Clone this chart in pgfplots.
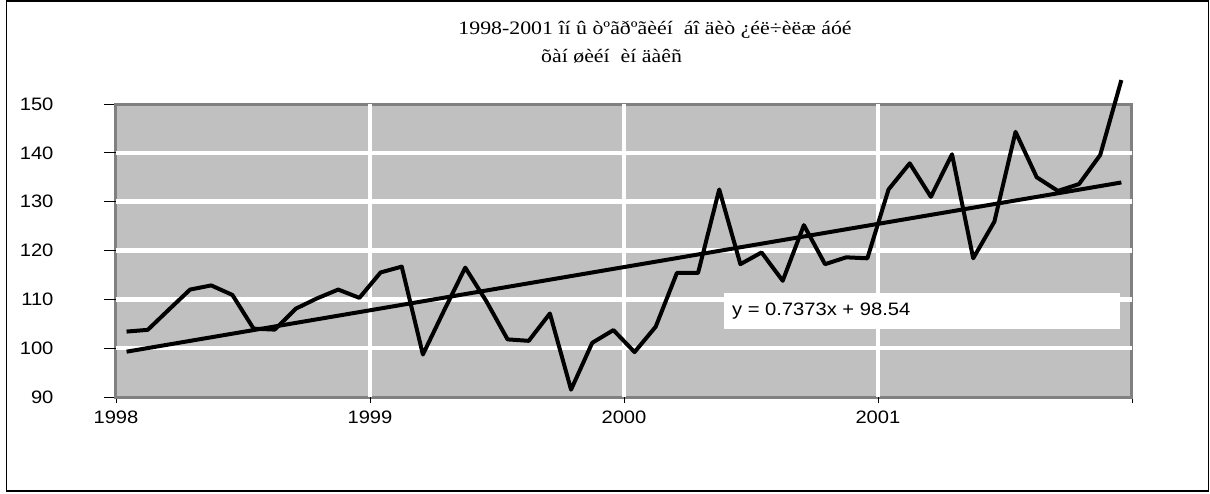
\documentclass[border=0pt]{standalone}
\usepackage{pgfplots}
\pgfplotsset{compat=1.18}
\usepackage{pgfplotstable}
\usepackage{fontspec}
\setmainfont{Liberation Sans}
\newfontfamily\sansf[FakeStretch=1.12]{Liberation Sans}
\newfontfamily\seriff[FakeStretch=1.15]{Liberation Serif}
\definecolor{plotbg}{RGB}{192,192,192}
\definecolor{axgray}{RGB}{128,128,128}
\pgfplotstableread{
x y
0.5 103.4
1.5 103.75
2.5 107.9
3.5 112.0
4.5 112.85
5.5 110.9
6.5 104.0
7.5 103.8
8.5 108.1
9.5 110.2
10.5 112.0
11.5 110.3
12.5 115.5
13.5 116.7
14.5 98.7
15.5 107.7
16.5 116.5
17.5 109.6
18.5 101.8
19.5 101.5
20.5 107.1
21.5 91.5
22.5 101.1
23.5 103.7
24.5 99.2
25.5 104.4
26.5 115.4
27.5 115.4
28.5 132.5
29.5 117.2
30.5 119.6
31.5 113.8
32.5 125.2
33.5 117.2
34.5 118.6
35.5 118.4
36.5 132.5
37.5 137.85
38.5 131.0
39.5 139.7
40.5 118.4
41.5 125.9
42.5 144.3
43.5 135.0
44.5 132.2
45.5 133.6
46.5 139.55
47.5 154.9
}\datatable
\begin{document}
\begin{tikzpicture}[x=1pt,y=1pt]
\useasboundingbox (-116,-96) rectangle (1094,397);
\draw[line width=1.5pt] (-109.5,-94) rectangle (1092.5,396);
\node[anchor=base, inner sep=0pt, font=\seriff\fontsize{19}{22}\selectfont] at (539,362) {1998-2001 îí û òºãðºãèéí\ \ áî äèò ¿éë÷èëæ áóé};
\node[anchor=base west, inner sep=0pt, font=\seriff\fontsize{19}{22}\selectfont] at (425,334) {õàí øèéí\ \ èí äàêñ};
\begin{axis}[scale only axis,
  width=1016pt, height=293pt,
  xmin=0, xmax=48, ymin=90, ymax=150,
  clip=false,
  xtick={0,12,24,36,48}, xticklabels={1998,1999,2000,2001,{}},
  ytick={90,100,...,150},
  extra x ticks={12,24,36}, extra x tick labels={},
  extra x tick style={grid=major},
  extra y ticks={100,110,...,140}, extra y tick labels={},
  extra y tick style={grid=major},
  major grid style={white, line width=4.5pt},
  axis line style={draw=axgray, line width=3pt},
  tick style={black, line width=0.8pt},
  tick pos=left,
  tick align=outside, major tick length=12pt,
  xtick style={/pgfplots/major tick length=6pt},
  axis background/.style={fill=plotbg},
  /pgf/number format/assume math mode=true,
  ticklabel style={font=\sansf\fontsize{18}{20}\selectfont},
  yticklabel style={anchor=east, xshift=-47pt},
  xticklabel style={yshift=2pt},
]
\fill[white] (axis cs:28.72,103.9) rectangle (axis cs:47.43,111.3);
\node[anchor=west, inner sep=0pt, font=\sansf\fontsize{18}{20}\selectfont] at (axis cs:29.1,107.6) {y = 0.7373x + 98.54};
\addplot[black, line width=4pt, line join=round] table[x=x,y=y] {\datatable};
\addplot[black, line width=4pt] coordinates {(0.5,99.28) (47.5,133.93)};
\end{axis}
\end{tikzpicture}
\end{document}
